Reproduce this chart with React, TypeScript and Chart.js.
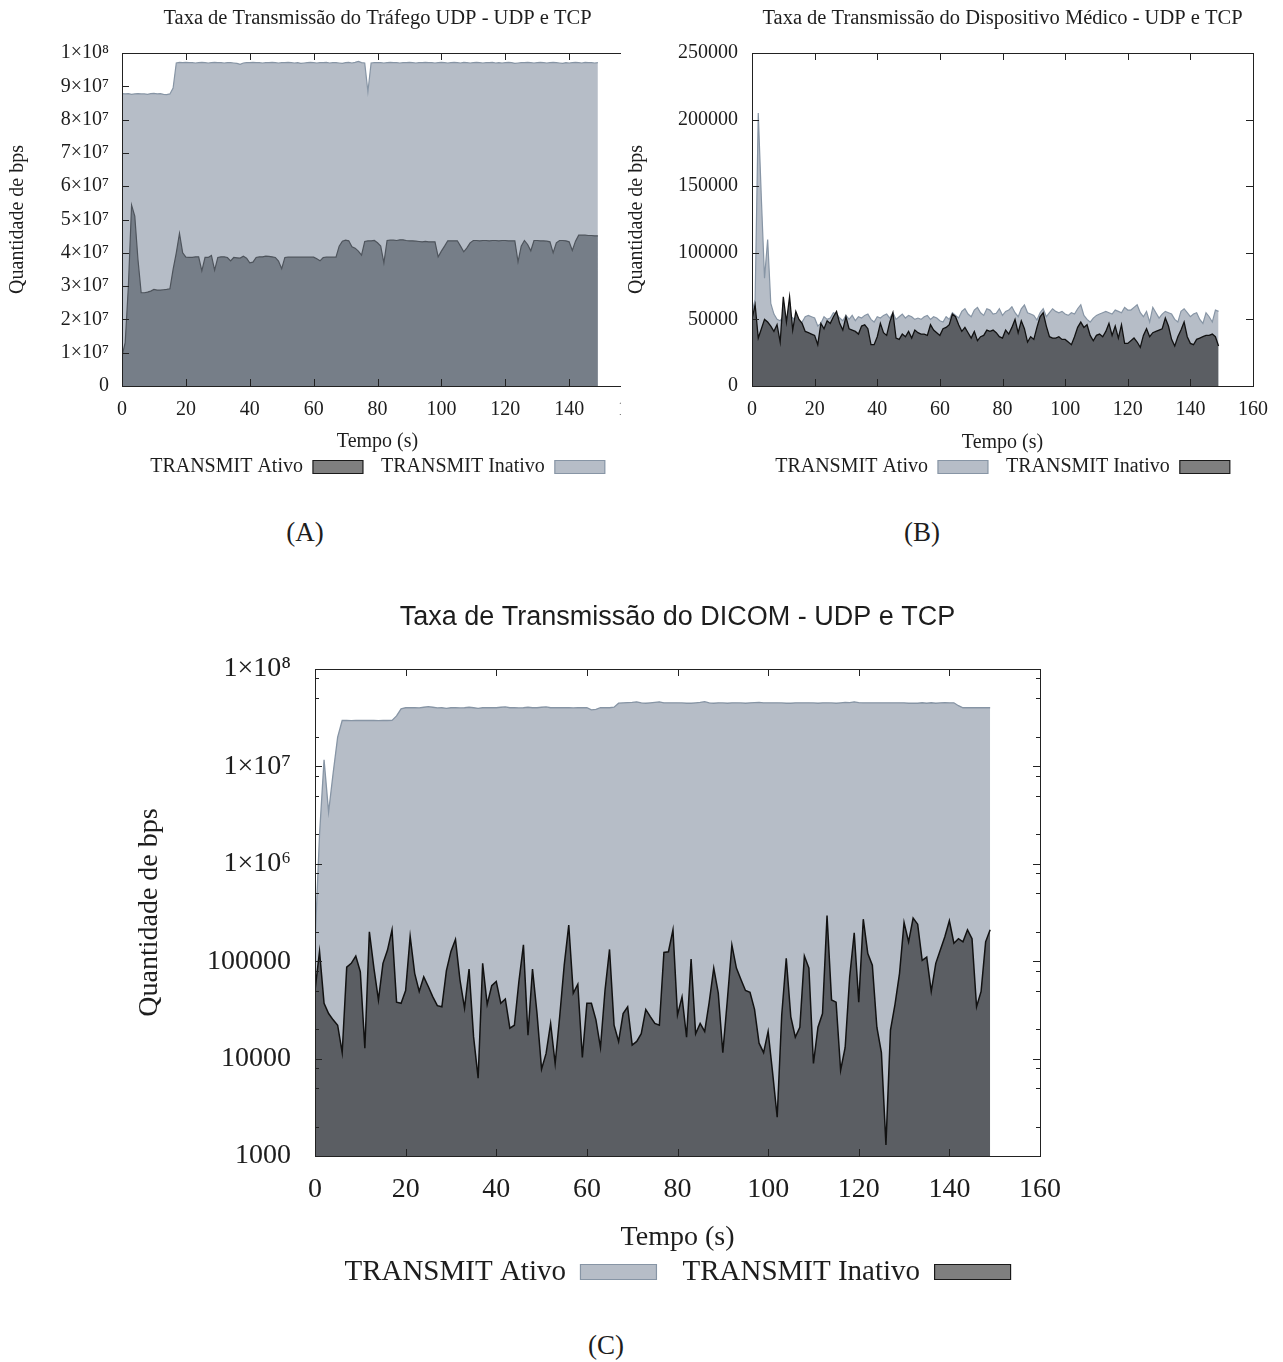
import React, { useEffect, useRef } from 'react';
import { Chart, registerables } from 'chart.js';

Chart.register(...registerables);

// ---------------- DATA ----------------
const TIME = Array.from({ length: 150 }, (_, i) => i); // seconds 0..149
const X_TICKS = [0, 20, 40, 60, 80, 100, 120, 140, 160];

const A_Y_TICKS = [0, 1e7, 2e7, 3e7, 4e7, 5e7, 6e7, 7e7, 8e7, 9e7, 1e8];
const A_Y_LABELS = ['0', '1×10⁷', '2×10⁷', '3×10⁷', '4×10⁷', '5×10⁷', '6×10⁷', '7×10⁷', '8×10⁷', '9×10⁷', '1×10⁸'];
const B_Y_TICKS = [0, 50000, 100000, 150000, 200000, 250000];
const B_Y_LABELS = ['0', '50000', '100000', '150000', '200000', '250000'];
const C_Y_TICKS = [1e3, 1e4, 1e5, 1e6, 1e7, 1e8];
const C_Y_LABELS = ['1000', '10000', '100000', '1×10⁶', '1×10⁷', '1×10⁸'];
const C_Y_MINOR = [2e3, 5e3, 8e3, 2e4, 5e4, 8e4, 2e5, 5e5, 8e5, 2e6, 5e6, 8e6, 2e7, 5e7, 8e7];

const A_TITLE = 'Taxa de Transmissão do Tráfego UDP - UDP e TCP';
const B_TITLE = 'Taxa de Transmissão do Dispositivo Médico - UDP e TCP';
const C_TITLE = 'Taxa de Transmissão do DICOM - UDP e TCP';
const SERIES_NAMES = ['TRANSMIT Ativo', 'TRANSMIT Inativo'];

// (A) Tráfego UDP
const A_ATIVO = [
  0.9e7, 1.3e7, 3.0e7, 5.43e7, 5.1e7, 3.8e7, 2.8e7, 2.8e7, 2.82e7, 2.85e7,
  2.9e7, 2.88e7, 2.88e7, 2.89e7, 2.9e7, 2.92e7, 3.5e7, 4.0e7, 4.58e7, 4.0e7,
  3.87e7, 3.86e7, 3.86e7, 3.88e7, 3.88e7, 3.46e7, 3.86e7, 3.86e7, 3.92e7, 3.48e7,
  3.86e7, 3.88e7, 3.88e7, 3.86e7, 3.76e7, 3.86e7, 3.85e7, 3.84e7, 3.9e7, 3.84e7,
  3.7e7, 3.72e7, 3.86e7, 3.88e7, 3.88e7, 3.9e7, 3.89e7, 3.88e7, 3.86e7, 3.75e7,
  3.52e7, 3.86e7, 3.87e7, 3.87e7, 3.87e7, 3.87e7, 3.87e7, 3.87e7, 3.87e7, 3.87e7,
  3.87e7, 3.82e7, 3.76e7, 3.86e7, 3.87e7, 3.87e7, 3.87e7, 3.87e7, 4.2e7, 4.35e7,
  4.38e7, 4.36e7, 4.18e7, 4.14e7, 4.05e7, 3.93e7, 4.34e7, 4.36e7, 4.36e7, 4.37e7,
  4.3e7, 4.2e7, 3.7e7, 4.37e7, 4.38e7, 4.38e7, 4.37e7, 4.39e7, 4.39e7, 4.37e7,
  4.36e7, 4.36e7, 4.35e7, 4.34e7, 4.33e7, 4.34e7, 4.33e7, 4.33e7, 4.33e7, 3.88e7,
  4.05e7, 4.2e7, 4.36e7, 4.36e7, 4.36e7, 4.36e7, 4.2e7, 4.03e7, 4.15e7, 4.3e7,
  4.37e7, 4.37e7, 4.36e7, 4.37e7, 4.37e7, 4.36e7, 4.37e7, 4.37e7, 4.36e7, 4.37e7,
  4.37e7, 4.36e7, 4.36e7, 4.36e7, 3.73e7, 4.2e7, 4.37e7, 4.25e7, 4.06e7, 4.37e7,
  4.37e7, 4.36e7, 4.36e7, 4.35e7, 4.33e7, 4.0e7, 4.3e7, 4.37e7, 4.37e7, 4.36e7,
  4.33e7, 4.07e7, 4.35e7, 4.53e7, 4.53e7, 4.53e7, 4.52e7, 4.52e7, 4.51e7, 4.51e7,
];
const A_INATIVO = [
  8.78e7, 8.77e7, 8.78e7, 8.76e7, 8.77e7, 8.78e7, 8.77e7, 8.77e7, 8.76e7, 8.78e7,
  8.79e7, 8.77e7, 8.78e7, 8.76e7, 8.75e7, 8.77e7, 8.95e7, 9.7e7, 9.72e7, 9.71e7,
  9.72e7, 9.71e7, 9.71e7, 9.7e7, 9.71e7, 9.72e7, 9.71e7, 9.7e7, 9.71e7, 9.72e7,
  9.71e7, 9.71e7, 9.7e7, 9.71e7, 9.71e7, 9.7e7, 9.69e7, 9.66e7, 9.7e7, 9.71e7,
  9.71e7, 9.72e7, 9.71e7, 9.71e7, 9.7e7, 9.71e7, 9.71e7, 9.72e7, 9.71e7, 9.7e7,
  9.71e7, 9.71e7, 9.72e7, 9.71e7, 9.7e7, 9.71e7, 9.69e7, 9.7e7, 9.71e7, 9.72e7,
  9.71e7, 9.7e7, 9.71e7, 9.71e7, 9.72e7, 9.7e7, 9.71e7, 9.71e7, 9.7e7, 9.69e7,
  9.71e7, 9.72e7, 9.7e7, 9.72e7, 9.75e7, 9.71e7, 9.7e7, 8.84e7, 9.7e7, 9.71e7,
  9.71e7, 9.71e7, 9.7e7, 9.71e7, 9.72e7, 9.71e7, 9.71e7, 9.7e7, 9.71e7, 9.71e7,
  9.72e7, 9.71e7, 9.7e7, 9.71e7, 9.71e7, 9.72e7, 9.71e7, 9.71e7, 9.7e7, 9.71e7,
  9.72e7, 9.71e7, 9.7e7, 9.71e7, 9.72e7, 9.71e7, 9.7e7, 9.72e7, 9.71e7, 9.7e7,
  9.71e7, 9.72e7, 9.71e7, 9.7e7, 9.71e7, 9.71e7, 9.72e7, 9.7e7, 9.71e7, 9.7e7,
  9.71e7, 9.72e7, 9.71e7, 9.69e7, 9.7e7, 9.71e7, 9.71e7, 9.72e7, 9.71e7, 9.7e7,
  9.71e7, 9.72e7, 9.71e7, 9.7e7, 9.71e7, 9.72e7, 9.71e7, 9.7e7, 9.69e7, 9.71e7,
  9.7e7, 9.71e7, 9.72e7, 9.71e7, 9.7e7, 9.72e7, 9.71e7, 9.71e7, 9.7e7, 9.71e7,
];

// (B) Dispositivo Médico
const B_ATIVO = [
  55000, 65000, 205000, 140000, 81000, 110000, 62000, 54000, 50000, 49000,
  52000, 50000, 53000, 51000, 49000, 47000, 48000, 52000, 53000, 52000,
  51000, 45000, 47000, 52000, 50000, 51000, 55000, 54000, 51000, 49000,
  53000, 50000, 53000, 49000, 52000, 51000, 53000, 54000, 50000, 48000,
  52000, 51000, 53000, 54000, 51000, 55000, 50000, 52000, 54000, 51000,
  53000, 52000, 50000, 51000, 50000, 52000, 53000, 50000, 52000, 51000,
  49000, 48000, 52000, 50000, 55000, 53000, 51000, 56000, 58000, 54000,
  52000, 57000, 59000, 55000, 53000, 58000, 57000, 54000, 54600, 58000,
  53000, 56000, 57000, 59500, 55000, 52000, 58000, 60800, 55000, 54000,
  53000, 49500, 55000, 58000, 52000, 55000, 58000, 56000, 55000, 56000,
  54000, 53000, 55000, 54000, 58000, 61000, 53000, 50000, 48000, 51000,
  53000, 54000, 55000, 56000, 55000, 54000, 57000, 56000, 55000, 59000,
  57000, 57000, 59000, 61000, 55000, 52000, 56000, 48000, 59000, 55000,
  51000, 54000, 56000, 55000, 54000, 50000, 48000, 56000, 58000, 55000,
  52000, 54000, 55000, 50000, 47000, 55000, 52000, 48000, 57000, 56000,
];
const B_INATIVO = [
  50000, 61000, 36000, 43000, 50000, 48000, 45000, 41000, 46000, 33000,
  67000, 48000, 67000, 42000, 56000, 50000, 47000, 41000, 40000, 39000,
  38000, 31000, 47000, 43000, 49000, 47000, 52000, 56000, 47000, 42000,
  52000, 43000, 42000, 41000, 39000, 45000, 46000, 43000, 31000, 31000,
  37000, 47000, 40000, 38000, 48000, 55000, 36000, 35000, 39000, 37000,
  41000, 36000, 42000, 40000, 39000, 39000, 38000, 46000, 42000, 40000,
  38000, 43000, 44000, 46000, 54000, 52000, 46000, 41000, 44000, 40000,
  36000, 41000, 34000, 37000, 38000, 42000, 41000, 42000, 40000, 37000,
  36000, 42000, 39000, 44000, 50000, 40000, 49000, 43000, 33000, 37000,
  35000, 44000, 52000, 55000, 45000, 37000, 36000, 36000, 37000, 35000,
  35000, 33000, 31000, 37000, 44000, 48000, 44000, 46000, 38000, 34000,
  38000, 39000, 37000, 41000, 47000, 38000, 45000, 36000, 46000, 32000,
  32000, 34000, 36000, 33000, 29000, 38000, 43000, 37000, 40000, 41000,
  42000, 43000, 51000, 45000, 35000, 30000, 37000, 42000, 48000, 37000,
  32000, 31000, 35000, 36000, 37000, 38000, 38000, 39000, 37000, 30000,
];

// (C) DICOM
const C_ATIVO = [
  1.5e5, 2.0e6, 1.17e7, 3.4e6, 8.5e6, 2.0e7, 2.96e7, 2.96e7, 2.95e7, 2.96e7,
  2.96e7, 2.97e7, 2.96e7, 2.96e7, 2.95e7, 2.96e7, 2.96e7, 2.97e7, 3.3e7, 3.9e7,
  4.0e7, 4.02e7, 4.0e7, 3.98e7, 4.05e7, 4.1e7, 4.05e7, 3.98e7, 4.0e7, 3.95e7,
  4.0e7, 4.0e7, 3.98e7, 4.0e7, 4.05e7, 4.0e7, 3.95e7, 4.0e7, 4.0e7, 4.02e7,
  4.0e7, 4.05e7, 4.08e7, 4.0e7, 4.0e7, 3.98e7, 4.0e7, 4.05e7, 4.0e7, 4.0e7,
  4.05e7, 4.08e7, 4.0e7, 4.0e7, 4.02e7, 4.0e7, 4.0e7, 3.98e7, 4.0e7, 4.0e7,
  4.0e7, 3.8e7, 3.85e7, 4.0e7, 4.0e7, 4.0e7, 4.05e7, 4.46e7, 4.5e7, 4.52e7,
  4.55e7, 4.6e7, 4.5e7, 4.45e7, 4.5e7, 4.55e7, 4.6e7, 4.5e7, 4.5e7, 4.5e7,
  4.5e7, 4.48e7, 4.45e7, 4.45e7, 4.5e7, 4.55e7, 4.62e7, 4.5e7, 4.45e7, 4.5e7,
  4.48e7, 4.45e7, 4.5e7, 4.5e7, 4.48e7, 4.45e7, 4.5e7, 4.52e7, 4.55e7, 4.5e7,
  4.5e7, 4.5e7, 4.5e7, 4.48e7, 4.45e7, 4.45e7, 4.5e7, 4.5e7, 4.5e7, 4.5e7,
  4.48e7, 4.45e7, 4.5e7, 4.5e7, 4.48e7, 4.45e7, 4.5e7, 4.55e7, 4.52e7, 4.6e7,
  4.52e7, 4.5e7, 4.5e7, 4.5e7, 4.5e7, 4.5e7, 4.5e7, 4.5e7, 4.5e7, 4.5e7,
  4.5e7, 4.45e7, 4.45e7, 4.45e7, 4.5e7, 4.45e7, 4.5e7, 4.45e7, 4.5e7, 4.52e7,
  4.5e7, 4.5e7, 4.2e7, 4.0e7, 4.0e7, 4.0e7, 4.0e7, 4.0e7, 4.0e7, 4.0e7,
];
const C_INATIVO = [
  5.0e4, 1.26e5, 3.7e4, 2.9e4, 2.5e4, 2.2e4, 1.15e4, 8.7e4, 9.5e4, 1.13e5,
  7.8e4, 1.28e4, 2.0e5, 8.5e4, 4.0e4, 9.5e4, 1.3e5, 2.1e5, 3.8e4, 3.7e4,
  5.0e4, 1.8e5, 7.5e4, 4.9e4, 6.9e4, 5.5e4, 4.3e4, 3.5e4, 3.4e4, 8.0e4,
  1.26e5, 1.67e5, 6.4e4, 3.3e4, 8.3e4, 1.67e4, 6.3e3, 9.5e4, 3.6e4, 5.6e4,
  6.2e4, 3.7e4, 4.1e4, 2.05e4, 2.2e4, 6.2e4, 1.47e5, 1.74e4, 8.3e4, 2.9e4,
  7.8e3, 1.13e4, 2.3e4, 8.9e3, 2.7e4, 9.1e4, 2.35e5, 4.7e4, 5.8e4, 1.03e4,
  3.7e4, 3.7e4, 2.5e4, 1.3e4, 5.0e4, 1.32e5, 2.2e4, 1.5e4, 2.9e4, 3.4e4,
  1.38e4, 1.5e4, 1.8e4, 3.2e4, 2.7e4, 2.3e4, 2.2e4, 1.23e5, 1.25e5, 2.1e5,
  2.8e4, 4.3e4, 1.66e4, 1.05e5, 1.8e4, 2.3e4, 1.9e4, 3.8e4, 8.5e4, 4.7e4,
  1.15e4, 4.0e4, 1.47e5, 8.5e4, 6.5e4, 5.0e4, 4.8e4, 3.2e4, 1.44e4, 1.15e4,
  1.9e4, 7.1e3, 2.5e3, 2.8e4, 1.07e5, 2.7e4, 1.66e4, 2.1e4, 1.13e5, 8.5e4,
  8.9e3, 2.1e4, 2.9e4, 2.95e5, 4.0e4, 3.8e4, 7.6e3, 1.3e4, 6.9e4, 1.96e5,
  3.8e4, 2.7e5, 1.2e5, 9.1e4, 2.1e4, 1.15e4, 1.3e3, 1.96e4, 3.6e4, 7.5e4,
  2.5e5, 1.58e5, 2.77e5, 2.4e5, 1.02e5, 1.1e5, 4.9e4, 9.5e4, 1.3e5, 1.78e5,
  2.6e5, 1.53e5, 1.7e5, 1.58e5, 2.1e5, 1.7e5, 3.4e4, 4.9e4, 1.58e5, 2.1e5,
];

// ---------------- STYLE ----------------
const SERIF = '"Liberation Serif", "Times New Roman", serif';
const SANS = '"Liberation Sans", Arial, sans-serif';
const INK = '#1d1d1d';
const LIGHT_FILL = '#b6bdc7';
const LIGHT_LINE = '#8795a5';
const DARK_FILL = '#5b5e63';
const DARK_LINE = '#111111';
const MID_FILL = '#767e88';
const MID_LINE = '#4e545c';
const LEGEND_GRAY = '#7f7f7f';

const isPow10 = (v: number) => {
  const l = Math.log10(v);
  return Math.abs(l - Math.round(l)) < 1e-9;
};

// gnuplot-like frame with inward tick marks on all four sides
const gnuFrame = {
  id: 'gnuFrame',
  afterDatasetsDraw(chart: any, _args: any, opts: any) {
    const { ctx, chartArea: a, scales } = chart;
    const xs = scales.x;
    const ys = scales.y;
    const L = opts.major ?? 7;
    const Lm = opts.minor ?? 4;
    ctx.save();
    ctx.strokeStyle = opts.color || '#222';
    ctx.lineWidth = 1;
    ctx.beginPath();
    for (const t of xs.ticks) {
      const px = Math.round(xs.getPixelForValue(t.value)) + 0.5;
      ctx.moveTo(px, a.bottom);
      ctx.lineTo(px, a.bottom - L);
      ctx.moveTo(px, a.top);
      ctx.lineTo(px, a.top + L);
    }
    for (const t of ys.ticks) {
      const len = opts.log && !isPow10(t.value) ? Lm : L;
      const py = Math.round(ys.getPixelForValue(t.value)) + 0.5;
      ctx.moveTo(a.left, py);
      ctx.lineTo(a.left + len, py);
      ctx.moveTo(a.right, py);
      ctx.lineTo(a.right - len, py);
    }
    ctx.stroke();
    ctx.strokeRect(Math.round(a.left) + 0.5, Math.round(a.top) + 0.5, Math.round(a.width), Math.round(a.height));
    ctx.restore();
  },
};

type Params = {
  title: string;
  titleFont: any;
  titlePadTop: number;
  titlePadBottom: number;
  fs: number;
  legendFs: number;
  datasets: any[];
  legendColors: { fill: string; stroke: string }[];
  yType: 'linear' | 'logarithmic';
  yMin: number;
  yMax: number;
  yTicks: number[];
  yLabels: string[];
  yMinor?: number[];
  yWidth: number;
  yTickPad: number;
  yTitlePad: number;
  xHeight: number;
  xTickPad: number;
  xTitlePadBottom: number;
  legendPad: number;
  boxWidth: number;
  boxHeight: number;
  padRight: number;
  padBottom: number;
};

function buildConfig(p: Params): any {
  const font = { family: SERIF, size: p.fs, lineHeight: 1.2, weight: 'normal' };
  const legendFont = { family: SERIF, size: p.legendFs, lineHeight: 1.2, weight: 'normal' };
  const allY = p.yMinor ? [...p.yTicks, ...p.yMinor].sort((a, b) => a - b) : p.yTicks;
  return {
    type: 'line',
    data: { labels: TIME, datasets: p.datasets },
    plugins: [gnuFrame],
    options: {
      responsive: false,
      animation: false,
      events: [],
      layout: { padding: { left: 0, top: 0, right: p.padRight, bottom: p.padBottom } },
      elements: { point: { radius: 0 }, line: { tension: 0 } },
      scales: {
        x: {
          type: 'linear',
          min: 0,
          max: 160,
          afterBuildTicks: (s: any) => {
            s.ticks = X_TICKS.map((v) => ({ value: v }));
          },
          afterFit: (s: any) => {
            s.height = p.xHeight;
          },
          grid: { display: false, drawTicks: false },
          border: { display: false },
          ticks: {
            padding: p.xTickPad,
            font,
            color: INK,
            maxRotation: 0,
            autoSkip: false,
            callback: (v: any) => String(v),
          },
          title: {
            display: true,
            text: 'Tempo (s)',
            font,
            color: INK,
            padding: { top: 0, bottom: p.xTitlePadBottom },
          },
        },
        y: {
          type: p.yType,
          min: p.yMin,
          max: p.yMax,
          afterBuildTicks: (s: any) => {
            s.ticks = allY.map((v) => ({ value: v }));
          },
          afterFit: (s: any) => {
            s.width = p.yWidth;
          },
          grid: { display: false, drawTicks: false },
          border: { display: false },
          ticks: {
            padding: p.yTickPad,
            font,
            color: INK,
            autoSkip: false,
            callback: (v: any) => {
              const i = p.yTicks.indexOf(Number(v));
              return i >= 0 ? p.yLabels[i] : '';
            },
          },
          title: {
            display: true,
            text: 'Quantidade de bps',
            font,
            color: INK,
            padding: { top: p.yTitlePad, bottom: 0 },
          },
        },
      },
      plugins: {
        title: {
          display: true,
          text: p.title,
          fullSize: false,
          font: p.titleFont,
          color: INK,
          padding: { top: p.titlePadTop, bottom: p.titlePadBottom },
        },
        legend: {
          display: true,
          position: 'bottom',
          fullSize: false,
          rtl: true,
          labels: {
            boxWidth: p.boxWidth,
            boxHeight: p.boxHeight,
            padding: p.legendPad,
            font: legendFont,
            color: INK,
            generateLabels: (chart: any) =>
              chart.data.datasets.map((ds: any, i: number) => ({
                text: ds.label,
                fillStyle: p.legendColors[i].fill,
                strokeStyle: p.legendColors[i].stroke,
                lineWidth: 1.2,
                hidden: false,
                datasetIndex: i,
                fontColor: INK,
              })),
            sort: (a: any, b: any) => b.datasetIndex - a.datasetIndex,
          },
        },
        tooltip: { enabled: false },
        gnuFrame: { log: p.yType === 'logarithmic', major: 7, minor: 4, color: '#222' },
      },
    },
  };
}

const configA = (): any =>
  buildConfig({
    title: A_TITLE,
    titleFont: { family: SERIF, size: 20.5, lineHeight: 1.2, weight: 'normal' },
    titlePadTop: 6,
    titlePadBottom: 22.4,
    fs: 20,
    legendFs: 20,
    datasets: [
      { label: SERIES_NAMES[0], data: A_ATIVO, fill: 'start', backgroundColor: MID_FILL, borderColor: MID_LINE, borderWidth: 1.2 },
      { label: SERIES_NAMES[1], data: A_INATIVO, fill: 'start', backgroundColor: LIGHT_FILL, borderColor: LIGHT_LINE, borderWidth: 1.2 },
    ],
    legendColors: [
      { fill: LEGEND_GRAY, stroke: '#1a1a1a' },
      { fill: LIGHT_FILL, stroke: LIGHT_LINE },
    ],
    yType: 'linear',
    yMin: 0,
    yMax: 1e8,
    yTicks: A_Y_TICKS,
    yLabels: A_Y_LABELS,
    yWidth: 122,
    yTickPad: 13,
    yTitlePad: 6,
    xHeight: 53,
    xTickPad: 12,
    xTitlePadBottom: -15,
    legendPad: 18,
    boxWidth: 50,
    boxHeight: 13,
    padRight: 27,
    padBottom: 13,
  });

const configB = (): any =>
  buildConfig({
    title: B_TITLE,
    titleFont: { family: SERIF, size: 20.5, lineHeight: 1.2, weight: 'normal' },
    titlePadTop: 6,
    titlePadBottom: 22.4,
    fs: 20,
    legendFs: 20,
    datasets: [
      { label: SERIES_NAMES[0], data: B_ATIVO, fill: 'start', backgroundColor: LIGHT_FILL, borderColor: LIGHT_LINE, borderWidth: 1.2, order: 1 },
      { label: SERIES_NAMES[1], data: B_INATIVO, fill: 'start', backgroundColor: DARK_FILL, borderColor: DARK_LINE, borderWidth: 1.3, order: 0 },
    ],
    legendColors: [
      { fill: LIGHT_FILL, stroke: LIGHT_LINE },
      { fill: LEGEND_GRAY, stroke: '#1a1a1a' },
    ],
    yType: 'linear',
    yMin: 0,
    yMax: 250000,
    yTicks: B_Y_TICKS,
    yLabels: B_Y_LABELS,
    yWidth: 132,
    yTickPad: 14,
    yTitlePad: 5,
    xHeight: 53,
    xTickPad: 12,
    xTitlePadBottom: -16,
    legendPad: 18,
    boxWidth: 50,
    boxHeight: 13,
    padRight: 30,
    padBottom: 13,
  });

const configC = (): any =>
  buildConfig({
    title: C_TITLE,
    titleFont: { family: SANS, size: 27, lineHeight: 1.2, weight: 'normal' },
    titlePadTop: 21.8,
    titlePadBottom: 34.8,
    fs: 28,
    legendFs: 29,
    datasets: [
      { label: SERIES_NAMES[0], data: C_ATIVO, fill: 'start', backgroundColor: LIGHT_FILL, borderColor: LIGHT_LINE, borderWidth: 1.3, order: 1 },
      { label: SERIES_NAMES[1], data: C_INATIVO, fill: 'start', backgroundColor: DARK_FILL, borderColor: DARK_LINE, borderWidth: 1.5, order: 0 },
    ],
    legendColors: [
      { fill: LIGHT_FILL, stroke: LIGHT_LINE },
      { fill: LEGEND_GRAY, stroke: '#1a1a1a' },
    ],
    yType: 'logarithmic',
    yMin: 1000,
    yMax: 1e8,
    yTicks: C_Y_TICKS,
    yLabels: C_Y_LABELS,
    yMinor: C_Y_MINOR,
    yWidth: 195,
    yTickPad: 24,
    yTitlePad: 13,
    xHeight: 75.5,
    xTickPad: 17,
    xTitlePadBottom: -23.3,
    legendPad: 26,
    boxWidth: 76,
    boxHeight: 15,
    padRight: 80,
    padBottom: 3.5,
  });

function ChartCanvas({ width, height, build }: { width: number; height: number; build: () => any }) {
  const ref = useRef<HTMLCanvasElement | null>(null);
  useEffect(() => {
    if (!ref.current) return;
    const chart = new Chart(ref.current, build());
    return () => chart.destroy();
  }, []);
  return <canvas ref={ref} width={width} height={height} style={{ display: 'block', width, height }} />;
}

const panelLabel = (text: string, x: number, y: number) => (
  <div
    style={{
      position: 'absolute',
      left: x,
      top: y,
      transform: 'translate(-50%, -50%)',
      fontFamily: SERIF,
      fontSize: 27,
      color: INK,
      whiteSpace: 'nowrap',
    }}
  >
    {text}
  </div>
);

export default function App() {
  return (
    <div style={{ position: 'absolute', left: 0, top: 0, width: 1283, height: 1362, background: '#fff' }}>
      <div style={{ position: 'absolute', left: 0, top: 0, width: 621, height: 500, overflow: 'hidden' }}>
        <ChartCanvas width={660} height={500} build={configA} />
      </div>
      <div style={{ position: 'absolute', left: 620, top: 0 }}>
        <ChartCanvas width={663} height={500} build={configB} />
      </div>
      <div style={{ position: 'absolute', left: 120, top: 580 }}>
        <ChartCanvas width={1000} height={720} build={configC} />
      </div>
      {panelLabel('(A)', 305, 532)}
      {panelLabel('(B)', 922, 532)}
      {panelLabel('(C)', 606, 1345)}
    </div>
  );
}
